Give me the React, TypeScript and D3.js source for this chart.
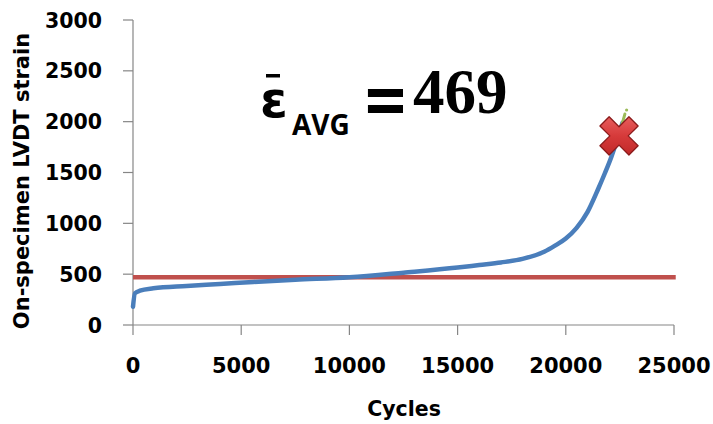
import React from "react";
import * as d3 from "d3";

const cycles = [0, 90, 320, 940, 2480, 4020, 5560, 7500, 10000, 12500, 15000, 16000, 17000, 18000, 19000, 19500, 20000, 20500, 21000, 21500, 21800, 22100, 22400, 22620];
const strain = [180, 312, 337, 361, 384, 403, 423, 445, 470, 515, 565, 590, 615, 650, 720, 780, 850, 955, 1110, 1340, 1490, 1650, 1840, 1990];
const greenCycles = [22600, 22730];
const greenStrain = [1975, 2075];
const greenDot = { c: 22810, s: 2115 };
const failure = { c: 22460, s: 1860 };
const avgStrain = 469;
const avgRange = [0, 25080];
const xTicks = [0, 5000, 10000, 15000, 20000, 25000];
const yTicks = [0, 500, 1000, 1500, 2000, 2500, 3000];
const xTitle = "Cycles";
const yTitle = "On-specimen LVDT strain";

const W = 713, H = 424;
const x = d3.scaleLinear().domain([0, 25000]).range([133, 674]);
const y = d3.scaleLinear().domain([0, 3000]).range([325, 20]);

export default function App() {
  const pts = cycles.map((c, i) => [c, strain[i]] as [number, number]);
  const line = d3.line<[number, number]>().x(d => x(d[0])).y(d => y(d[1])).curve(d3.curveMonotoneX);
  const gpts = greenCycles.map((c, i) => [c, greenStrain[i]] as [number, number]);
  const axisColor = "#868686";
  const labelFont = "'DejaVu Sans', sans-serif";
  const cx = x(failure.c), cy = y(failure.s);
  const L = 20.5, w = 6.5;
  const cross = `M${-w},${-L}L${w},${-L}L${w},${-w}L${L},${-w}L${L},${w}L${w},${w}L${w},${L}L${-w},${L}L${-w},${w}L${-L},${w}L${-L},${-w}L${-w},${-w}Z`;
  return (
    <svg width={W} height={H} style={{ position: "absolute", left: 0, top: 0, background: "#fff" }}>
      <defs>
        <linearGradient id="xg" x1="0" y1="0" x2="1" y2="1">
          <stop offset="0" stopColor="#f07070" />
          <stop offset="0.5" stopColor="#d63a3a" />
          <stop offset="1" stopColor="#b52020" />
        </linearGradient>
      </defs>
      {/* axes */}
      <line x1={x(0)} x2={x(0)} y1={y(3000)} y2={y(0)} stroke={axisColor} strokeWidth={1.2} />
      <line x1={x(0)} x2={x(25000)} y1={y(0)} y2={y(0)} stroke={axisColor} strokeWidth={1.2} />
      {yTicks.map(t => (
        <g key={"y" + t}>
          <line x1={x(0) - 10} x2={x(0)} y1={y(t)} y2={y(t)} stroke={axisColor} strokeWidth={1.2} />
          <text x={102} y={y(t) + 7.5} textAnchor="end" fontFamily={labelFont} fontWeight="bold" fontSize={20.5} fill="#000">{t}</text>
        </g>
      ))}
      {xTicks.map(t => (
        <g key={"x" + t}>
          <line x1={x(t)} x2={x(t)} y1={y(0)} y2={y(0) + 10} stroke={axisColor} strokeWidth={1.2} />
          <text x={x(t)} y={373} textAnchor="middle" fontFamily={labelFont} fontWeight="bold" fontSize={21} fill="#000">{t}</text>
        </g>
      ))}
      <text x={404} y={416} textAnchor="middle" fontFamily={labelFont} fontWeight="bold" fontSize={20.5} fill="#000">{xTitle}</text>
      <text transform={`translate(29,181) rotate(-90)`} textAnchor="middle" fontFamily={labelFont} fontWeight="bold" fontSize={21} fill="#000">{yTitle}</text>
      {/* average line */}
      <line x1={x(avgRange[0])} x2={x(avgRange[1])} y1={y(avgStrain)} y2={y(avgStrain)} stroke="#c0504d" strokeWidth={4.5} />
      {/* data */}
      <path d={line(pts) || ""} fill="none" stroke="#4a7ebb" strokeWidth={4.5} strokeLinecap="round" strokeLinejoin="round" />
      <path d={line(gpts) || ""} fill="none" stroke="#9bbb59" strokeWidth={3} strokeLinecap="round" />
      <circle cx={x(greenDot.c)} cy={y(greenDot.s)} r={1.6} fill="#9bbb59" />
      <g transform={`translate(${cx},${cy}) rotate(45)`}>
        <path d={cross} fill="url(#xg)" stroke="#8b1a1a" strokeWidth={1.3} strokeLinejoin="round" />
      </g>
      {/* equation */}
      <text x={260} y={117} fontFamily="'DejaVu Sans', sans-serif" fontWeight="bold" fontSize={50} fill="#000">ε</text>
      <rect x={266} y={74} width={14} height={3.5} fill="#000" />
      <text x={292} y={135} fontFamily="'Open Sans', sans-serif" fontWeight="bold" fontSize={28} fill="#000">AVG</text>
      <text transform="translate(385.5,123) scale(0.8,1)" textAnchor="middle" fontFamily="'DejaVu Sans', sans-serif" fontWeight="bold" fontSize={70} fill="#000">=</text>
      <text x={413} y={113} fontFamily="'Liberation Serif', serif" fontWeight="bold" fontSize={63} fill="#000">{avgStrain}</text>
    </svg>
  );
}
